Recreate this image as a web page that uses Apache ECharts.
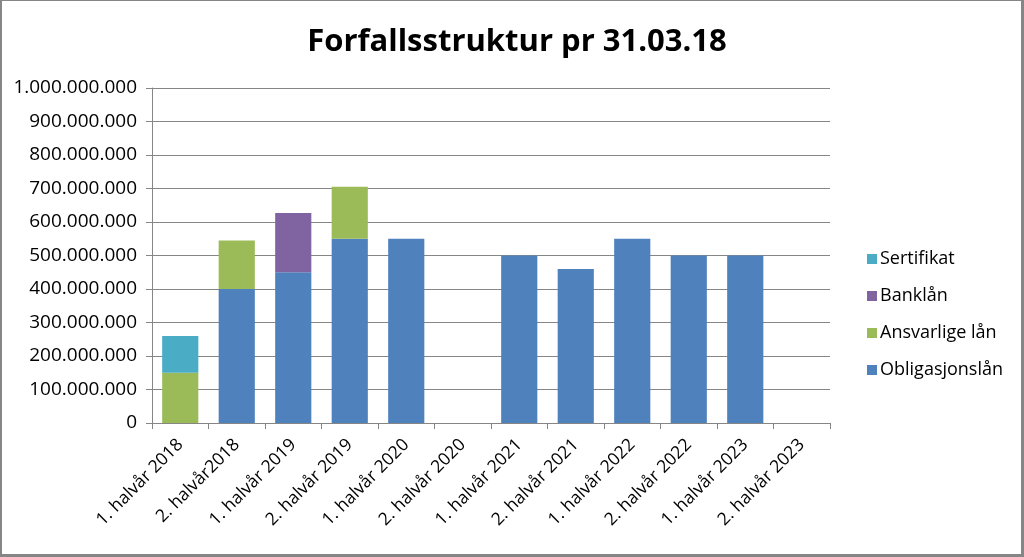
<!DOCTYPE html>
<html>
<head>
<meta charset="utf-8">
<script src="https://cdn.jsdelivr.net/npm/echarts@6/dist/echarts.min.js"></script>
<style>
html,body{margin:0;padding:0;background:#fff;}
#c{width:1024px;height:557px;}
</style>
</head>
<body>
<div id="c"></div>
<script>
var categories = ['1. halvår 2018','2. halvår2018','1. halvår 2019','2. halvår 2019','1. halvår 2020','2. halvår 2020','1. halvår 2021','2. halvår 2021','1. halvår 2022','2. halvår 2022','1. halvår 2023','2. halvår 2023'];
var obligasjonslan = [0, 400000000, 450000000, 550000000, 550000000, 0, 500000000, 460000000, 550000000, 500000000, 500000000, 0];
var ansvarligeLan  = [150000000, 145000000, 0, 155000000, 0, 0, 0, 0, 0, 0, 0, 0];
var banklan        = [0, 0, 177000000, 0, 0, 0, 0, 0, 0, 0, 0, 0];
var sertifikat     = [110000000, 0, 0, 0, 0, 0, 0, 0, 0, 0, 0, 0];

var FONT = 'Open Sans';
var chart = echarts.init(document.getElementById('c'), null, {renderer:'canvas'});
function fmt(v){
  return String(Math.round(v)).replace(/\B(?=(\d{3})+(?!\d))/g, '.');
}
var bw = '64%';
chart.setOption({
  animation:false,
  backgroundColor:'#fff',
  title:{
    text:'Forfallsstruktur pr 31.03.18',
    left:512, top:22, textAlign:'center',
    textStyle:{fontFamily:FONT, fontWeight:'bold', fontSize:31, color:'#000'}
  },
  legend:{
    orient:'vertical', left:862, top:245,
    itemWidth:10, itemHeight:10, itemGap:19,
    icon:'rect',
    data:['Sertifikat','Banklån','Ansvarlige lån','Obligasjonslån'],
    textStyle:{fontFamily:FONT, fontSize:18, color:'#000', padding:[0,0,0,-2]}
  },
  grid:{left:152, right:194, top:88, bottom:134, containLabel:false},
  xAxis:{
    type:'category', data:categories,
    axisLine:{lineStyle:{color:'#868686', width:1}},
    axisTick:{show:true, length:6, lineStyle:{color:'#868686'}},
    axisLabel:{rotate:45, interval:0, fontFamily:FONT, fontSize:17.5, color:'#000', margin:19}
  },
  yAxis:{
    type:'value', min:0, max:1000000000, interval:100000000,
    axisLine:{show:true, lineStyle:{color:'#868686'}},
    axisTick:{show:true, inside:false, length:6, lineStyle:{color:'#868686'}},
    splitLine:{show:true, lineStyle:{color:'#868686', width:1}},
    axisLabel:{formatter:fmt, fontFamily:FONT, fontSize:19, color:'#000', margin:15}
  },
  series:[
    {name:'Obligasjonslån', type:'bar', stack:'s', data:obligasjonslan, barWidth:bw, itemStyle:{color:'#4F81BD'}},
    {name:'Ansvarlige lån', type:'bar', stack:'s', data:ansvarligeLan, barWidth:bw, itemStyle:{color:'#9BBB59'}},
    {name:'Banklån', type:'bar', stack:'s', data:banklan, barWidth:bw, itemStyle:{color:'#8064A2'}},
    {name:'Sertifikat', type:'bar', stack:'s', data:sertifikat, barWidth:bw, itemStyle:{color:'#4BACC6'}}
  ],
  graphic:[
    {type:'rect', shape:{x:0,y:0,width:1024,height:1}, style:{fill:'#868686'}, silent:true},
    {type:'rect', shape:{x:0,y:0,width:2,height:557}, style:{fill:'#868686'}, silent:true},
    {type:'rect', shape:{x:1021,y:0,width:3,height:557}, style:{fill:'#868686'}, silent:true},
    {type:'rect', shape:{x:0,y:554,width:1024,height:3}, style:{fill:'#868686'}, silent:true}
  ]
});
</script>
</body>
</html>
